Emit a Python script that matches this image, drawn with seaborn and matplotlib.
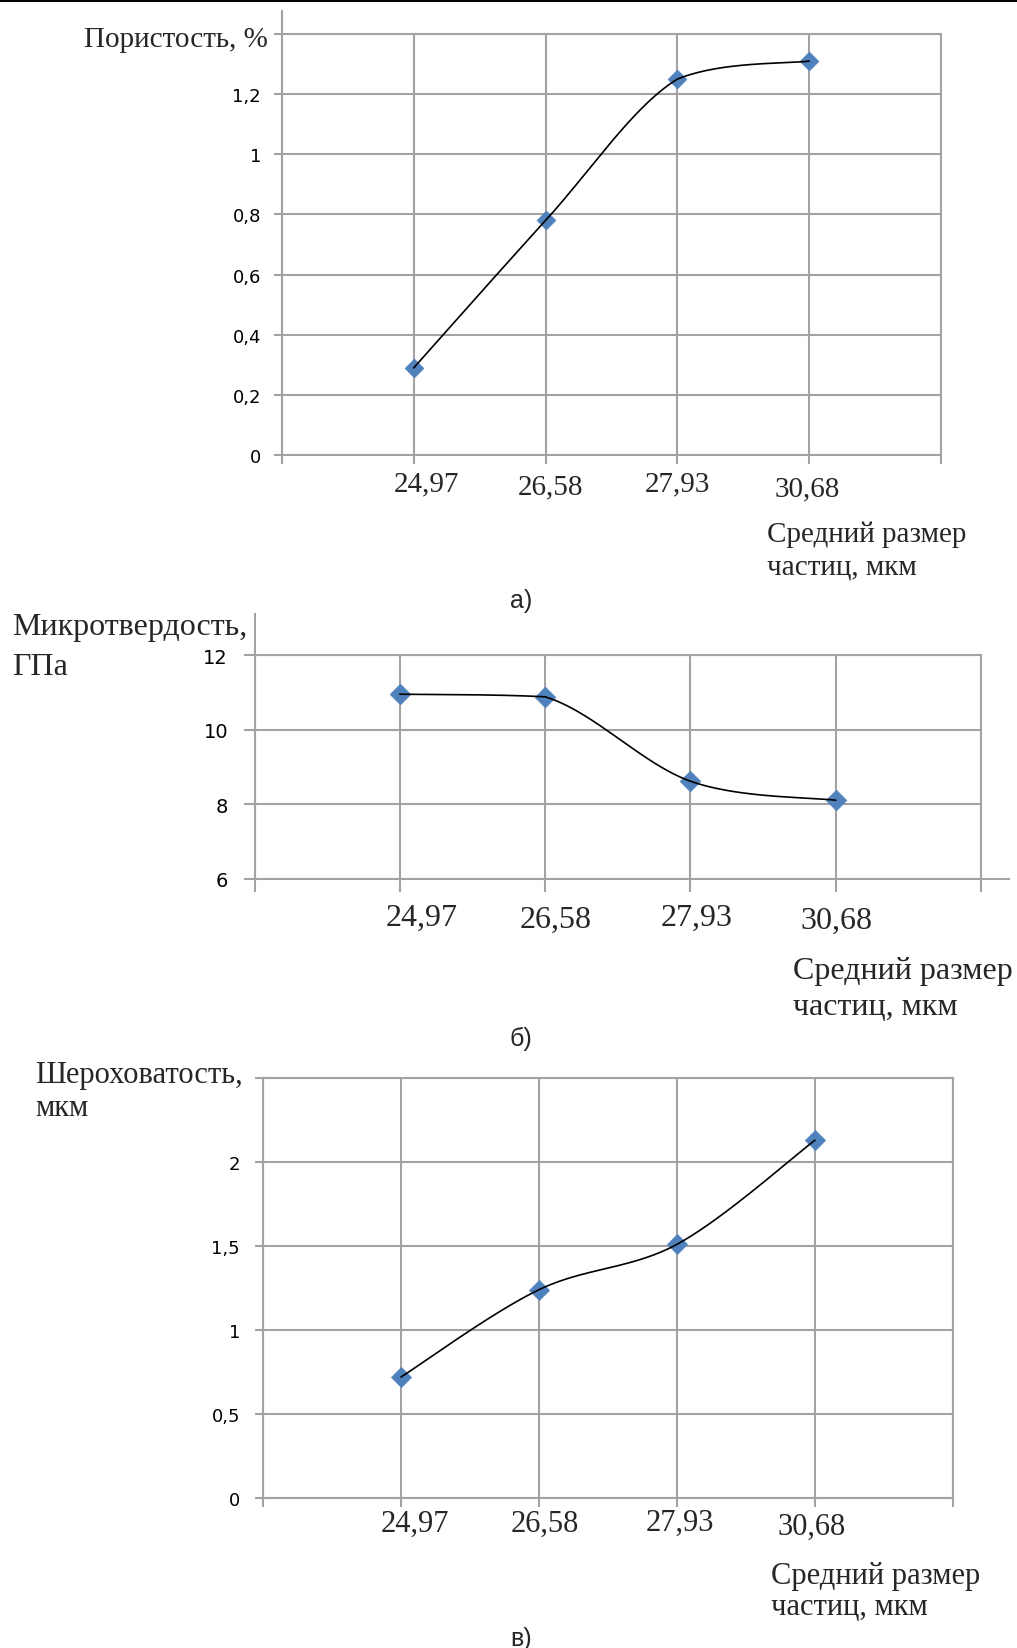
import numpy as np
import pandas as pd
import matplotlib
matplotlib.use("Agg")
import matplotlib.pyplot as plt
import matplotlib.transforms as mtransforms
from matplotlib.patches import Rectangle
import seaborn as sns

# ---------------- data ----------------
categories = ['24,97', '26,58', '27,93', '30,68']
porosity = [0.29, 0.78, 1.25, 1.31]
microhardness = [10.95, 10.88, 8.62, 8.11]
roughness = [0.72, 1.24, 1.51, 2.13]

yticks_a = [0, 0.2, 0.4, 0.6, 0.8, 1.0, 1.2, 1.4]
yticklabels_a = ['0', '0,2', '0,4', '0,6', '0,8', '1', '1,2', '']
yticks_b = [6, 8, 10, 12]
yticklabels_b = ['6', '8', '10', '12']
yticks_c = [0, 0.5, 1.0, 1.5, 2.0, 2.5]
yticklabels_c = ['0', '0,5', '1', '1,5', '2', '']

ylabel_a = ['Пористость, %']
ylabel_b = ['Микротвердость,', 'ГПа']
ylabel_c = ['Шероховатость,', 'мкм']
xlabel_lines = ['Средний размер', 'частиц, мкм']
captions = ['а)', 'б)', 'в)']

# ---------------- style ----------------
sns.set_style("white")
plt.rcParams['font.family'] = ['DejaVu Sans']
W, H = 1017, 1649
DPI = 100
GRID = '#A3A3A3'
MARK = '#4F81BD'
SERIF = ['Liberation Serif', 'DejaVu Serif']
CAPFONT = ['Liberation Sans', 'DejaVu Sans']
PX = 72.0 / DPI  # points per pixel

fig = plt.figure(figsize=(W / DPI, H / DPI), dpi=DPI)
fig.patch.set_facecolor('white')


def rect(l, r, t, b):
    return [l / W, 1 - b / H, (r - l) / W, (b - t) / H]


def smooth_curve(xs, ys, n=60):
    P = np.column_stack([xs, ys]).astype(float)
    out = []
    for i in range(len(P) - 1):
        p0 = P[i - 1] if i > 0 else P[i]
        p1, p2 = P[i], P[i + 1]
        p3 = P[i + 2] if i + 2 < len(P) else P[i + 1]
        c1 = p1 + (p2 - p0) / 6.0
        c2 = p2 - (p3 - p1) / 6.0
        lo, hi = min(p1[1], p2[1]), max(p1[1], p2[1])
        c1[1] = np.clip(c1[1], lo, hi)
        c2[1] = np.clip(c2[1], lo, hi)
        t = np.linspace(0, 1, n)[:, None]
        seg = ((1 - t) ** 3) * p1 + 3 * ((1 - t) ** 2) * t * c1 + 3 * (1 - t) * (t ** 2) * c2 + (t ** 3) * p2
        out.append(seg if i == 0 else seg[1:])
    return np.vstack(out)


def panel(box, values, yticks, yticklabels, ylim, spine_top_ext, xtick_len, ytick_len,
          ypad_px, ytick_size, label_offsets, label_size, msize, bottom_ext=0.0):
    ax = fig.add_axes(rect(*box))
    xpos = np.arange(1, len(categories) + 1)
    df = pd.DataFrame({'x': xpos, 'y': values})
    curve = smooth_curve(xpos, values)
    cdf = pd.DataFrame({'x': curve[:, 0], 'y': curve[:, 1]})
    sns.scatterplot(data=df, x='x', y='y', marker='D', s=msize, color=MARK,
                    edgecolor=MARK, linewidth=0.3, ax=ax, zorder=3, legend=False)
    sns.lineplot(data=cdf, x='x', y='y', sort=False, estimator=None, color='black',
                 lw=1.2, ax=ax, zorder=4, legend=False)
    ax.set_xlim(0, len(categories) + 1)
    ax.set_ylim(*ylim)
    ax.set_xticks(range(len(categories) + 2))
    ax.set_xticklabels([''] + categories + [''], family=SERIF, fontsize=label_size)
    ax.set_yticks(yticks)
    ax.set_yticklabels(yticklabels, fontsize=ytick_size, color='black')
    ax.set_xlabel('')
    ax.set_ylabel('')
    ax.grid(True, color=GRID, lw=1.5)
    ax.set_axisbelow(True)
    for s in ax.spines.values():
        s.set_visible(True)
        s.set_color(GRID)
        s.set_linewidth(1.5)
    ax.spines['left'].set_bounds(ylim[0], ylim[1] + spine_top_ext)
    if bottom_ext:
        ax.spines['bottom'].set_bounds(0, len(categories) + 1 + bottom_ext)
    ax.tick_params(axis='x', direction='out', length=xtick_len * PX, width=1.5, color=GRID,
                   bottom=True)
    ax.tick_params(axis='y', direction='out', length=ytick_len * PX, width=1.5, color=GRID,
                   left=True, pad=ypad_px * PX)
    ticks = ax.xaxis.get_major_ticks()
    for i, (dx, dy) in enumerate(label_offsets, start=1):
        lab = ticks[i].label1
        lab.set_transform(ax.get_xaxis_transform() +
                          mtransforms.ScaledTranslation(dx / DPI, -dy / DPI, fig.dpi_scale_trans))
        lab.set_verticalalignment('baseline')
        lab.set_horizontalalignment('center')
    return ax


# panel a
panel((282, 941, 35, 456), porosity, yticks_a, yticklabels_a, (0, 1.4), 0.076,
      9, 8, 13, 13, [(12.6, 35.7), (5.3, 38.8), (0, 35.7), (-2.1, 39.9)], 21, 95)
# panel b
panel((254.5, 981, 656, 880), microhardness, yticks_b, yticklabels_b, (6, 12), 1.1,
      13, 11, 15.5, 14, [(21.7, 46), (11, 48), (6.6, 46), (0.9, 49)], 23, 115, bottom_ext=0.19)
# panel c
panel((263, 953, 1079, 1499), roughness, yticks_c, yticklabels_c, (0, 2.5), 0.0,
      9, 8, 15, 13, [(14, 32.6), (6, 32.6), (2.7, 31.6), (-3, 35.6)], 22, 110)


def ftext(x, y, s, **kw):
    fig.text(x / W, 1 - y / H, s, **kw)


# y-axis titles
ftext(84, 47, ylabel_a[0], family=SERIF, fontsize=21, ha='left', va='baseline')
ftext(12, 635, ylabel_b[0], family=SERIF, fontsize=23, ha='left', va='baseline')
ftext(12, 675, ylabel_b[1], family=SERIF, fontsize=23, ha='left', va='baseline')
ftext(35, 1083, ylabel_c[0], family=SERIF, fontsize=22, ha='left', va='baseline')
ftext(35, 1116, ylabel_c[1], family=SERIF, fontsize=22, ha='left', va='baseline')

# x-axis titles
for (x, y1, y2, fs) in [(767, 542, 575, 21), (793, 979, 1015, 23), (771, 1584, 1615, 22)]:
    ftext(x, y1, xlabel_lines[0], family=SERIF, fontsize=fs, ha='left', va='baseline')
    ftext(x, y2, xlabel_lines[1], family=SERIF, fontsize=fs, ha='left', va='baseline')

# captions
for (y, cap) in zip([601, 1039, 1639], captions):
    ftext(521, y, cap, family=CAPFONT, fontsize=18, ha='center', va='center')

# top border line of the scan
fig.add_artist(Rectangle((0, 1 - 3 / H), 1, 3 / H, transform=fig.transFigure,
                         color='black', lw=0))

fig.savefig('out.png', dpi=DPI, facecolor='white')
